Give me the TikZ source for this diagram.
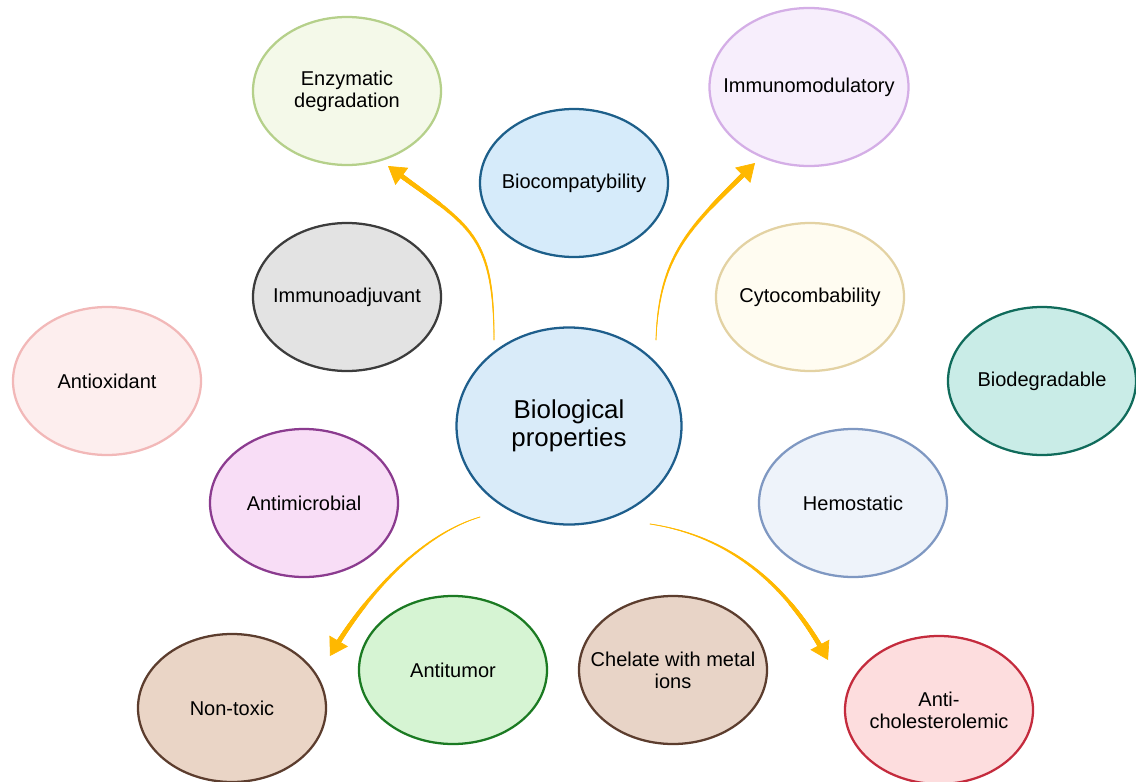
\documentclass[tikz,border=0pt]{standalone}
\usepackage{fontspec}
\setmainfont{Liberation Sans}
\usetikzlibrary{shapes.geometric,arrows.meta,decorations.markings,calc}
\tikzset{every picture/.style={line width=0.75pt}}
\tikzset{
  bubble/.style={ellipse, line width=1.7pt, minimum width=141pt, minimum height=111pt, inner sep=-20pt, align=center, font=\fontsize{15}{16.5}\selectfont},
  flow/.style={draw={rgb, 255:red, 255; green, 184; blue, 0}, line width=0.5pt, -{Triangle[width=16pt,length=13pt]},
    postaction={decorate, decoration={markings, mark=between positions 0 and 0.95 step 0.5pt with {\pgfmathsetmacro\flowr{0.3+1.7*\pgfkeysvalueof{/pgf/decoration/mark info/distance from start}/\pgfdecoratedpathlength}\fill [color={rgb, 255:red, 255; green, 184; blue, 0}] (0,0) circle (\flowr pt);}}}}
}

\begin{document}
\begin{tikzpicture}[x=0.75pt,y=0.75pt,yscale=-1,xscale=1]
\useasboundingbox (0,0) rectangle (1136,782);

%Shape: Ellipse [centre]
\node [bubble, minimum width=168.75pt, minimum height=147.75pt, font=\fontsize{19.4}{21.2}\selectfont, draw={rgb, 255:red, 30; green, 94; blue, 140 }, fill={rgb, 255:red, 217; green, 235; blue, 249 }] (bio) at (569,426) {Biological\\properties};

%Shape: Ellipse [top row]
\node [bubble, draw={rgb, 255:red, 181; green, 208; blue, 138 }, fill={rgb, 255:red, 244; green, 249; blue, 233 }] (enz) at (347,91) {Enzymatic\\degradation};
\node [bubble, draw={rgb, 255:red, 29; green, 95; blue, 138 }, fill={rgb, 255:red, 214; green, 235; blue, 250 }] (biocomp) at (574,183) {Biocompatybility};
\node [bubble, minimum width=149.25pt, minimum height=118.5pt, draw={rgb, 255:red, 212; green, 174; blue, 230 }, fill={rgb, 255:red, 247; green, 238; blue, 252 }] (immod) at (809,87) {Immunomodulatory};

%Shape: Ellipse [second row]
\node [bubble, draw={rgb, 255:red, 60; green, 60; blue, 60 }, fill={rgb, 255:red, 227; green, 227; blue, 227 }] (immadj) at (347,297) {Immunoadjuvant};
\node [bubble, draw={rgb, 255:red, 227; green, 210; blue, 163 }, fill={rgb, 255:red, 255; green, 252; blue, 241 }] (cyto) at (810,297) {Cytocombability};

%Shape: Ellipse [sides]
\node [bubble, draw={rgb, 255:red, 242; green, 184; blue, 184 }, fill={rgb, 255:red, 253; green, 238; blue, 238 }] (antiox) at (107,381) {Antioxidant};
\node [bubble, draw={rgb, 255:red, 16; green, 107; blue, 91 }, fill={rgb, 255:red, 201; green, 236; blue, 231 }] (biodeg) at (1042,381) {Biodegradable};
\node [bubble, draw={rgb, 255:red, 139; green, 59; blue, 143 }, fill={rgb, 255:red, 248; green, 221; blue, 246 }] (antimic) at (304,503) {Antimicrobial};
\node [bubble, draw={rgb, 255:red, 127; green, 152; blue, 194 }, fill={rgb, 255:red, 238; green, 243; blue, 250 }] (hemo) at (853,503) {Hemostatic};

%Shape: Ellipse [bottom row]
\node [bubble, draw={rgb, 255:red, 92; green, 61; blue, 46 }, fill={rgb, 255:red, 234; green, 213; blue, 198 }] (nontox) at (232,708) {Non-toxic};
\node [bubble, draw={rgb, 255:red, 27; green, 122; blue, 34 }, fill={rgb, 255:red, 214; green, 244; blue, 211 }] (antitum) at (453,670) {Antitumor};
\node [bubble, draw={rgb, 255:red, 92; green, 61; blue, 46 }, fill={rgb, 255:red, 232; green, 212; blue, 199 }] (chelate) at (673,670) {Chelate with metal\\ions};
\node [bubble, draw={rgb, 255:red, 196; green, 43; blue, 61 }, fill={rgb, 255:red, 253; green, 221; blue, 222 }] (achol) at (939,710) {Anti-\\cholesterolemic};

%Curve Lines [arrow ends]
\coordinate (s1) at ($(bio)+(-75,-86)$);
\coordinate (e1) at ($(enz)+(41,75)$);
\coordinate (s2) at ($(bio)+(87,-86)$);
\coordinate (e2) at ($(immod)+(-54,76)$);
\coordinate (s3) at ($(bio)+(-89,91)$);
\coordinate (e3) at ($(nontox)+(98,-52)$);
\coordinate (s4) at ($(bio)+(81,98)$);
\coordinate (e4) at ($(achol)+(-111,-50)$);

%Curve Lines [arrows]
\draw [flow] (s1) .. controls +(0,-110) and +(80,60) .. (e1) ;
\draw [flow] (s2) .. controls +(3,-90) and +(-60,60) .. (e2) ;
\draw [flow] (s3) .. controls +(-60,18) and +(35,-60) .. (e3) ;
\draw [flow] (s4) .. controls +(80,12) and +(-40,-75) .. (e4) ;

\end{tikzpicture}
\end{document}
